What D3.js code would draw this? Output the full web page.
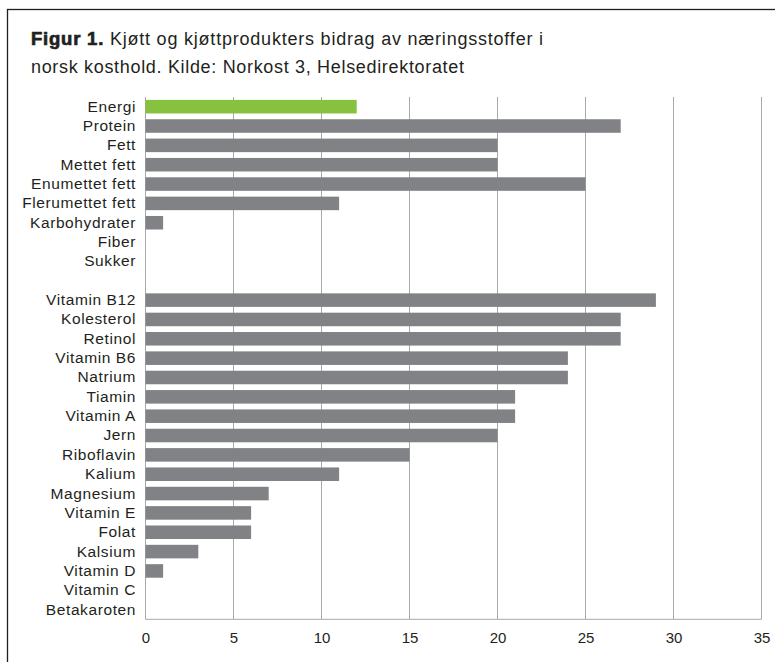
<!DOCTYPE html>
<html><head><meta charset="utf-8">
<script src="https://cdn.jsdelivr.net/npm/d3@7"></script>
<style>body{margin:0;background:#fff}svg{display:block}</style>
</head><body>
<script>
const categories = ["Energi","Protein","Fett","Mettet fett","Enumettet fett","Flerumettet fett","Karbohydrater","Fiber","Sukker","",
 "Vitamin B12","Kolesterol","Retinol","Vitamin B6","Natrium","Tiamin","Vitamin A","Jern","Riboflavin","Kalium","Magnesium","Vitamin E","Folat","Kalsium","Vitamin D","Vitamin C","Betakaroten"];
const values = [12,27,20,20,25,11,1,0,0,null,29,27,27,24,24,21,21,20,15,11,7,6,6,3,1,0,0];
const xTicks = [0,5,10,15,20,25,30,35];
const titleBold = "Figur 1.";
const titleRest = " Kjøtt og kjøttprodukters bidrag av næringsstoffer i";
const titleLine2 = "norsk kosthold. Kilde: Norkost 3, Helsedirektoratet";

const W=775,H=662;
const svg=d3.select("body").append("svg").attr("width",W).attr("height",H);
const font="'Liberation Sans', Arial, Helvetica, sans-serif";
svg.append("rect").attr("x",7.5).attr("y",9.5).attr("width",900).attr("height",900)
  .attr("fill","none").attr("stroke","#231f20").attr("stroke-width",1.3);

const t1=svg.append("text").attr("x",31).attr("y",45).attr("font-family",font).attr("font-size",18).attr("fill","#231f20")
  .attr("textLength",512).attr("lengthAdjust","spacing");
t1.append("tspan").attr("font-weight","900").attr("font-size",18.5).attr("stroke","#231f20").attr("stroke-width",0.7).text(titleBold);
t1.append("tspan").text(titleRest);
svg.append("text").attr("x",31).attr("y",73).attr("font-family",font).attr("font-size",18).attr("fill","#231f20")
  .attr("textLength",433).attr("lengthAdjust","spacing").text(titleLine2);

const x=d3.scaleLinear().domain([0,35]).range([145.5,761.5]);
const y=d3.scaleBand().domain(categories).range([97,619.3]).paddingInner(0.3).paddingOuter(0.15);

const g=svg.append("g");
g.selectAll("line.grid").data(xTicks).join("line").attr("class","grid")
  .attr("x1",d=>x(d)).attr("x2",d=>x(d)).attr("y1",97).attr("y2",619.3)
  .attr("stroke","#a7a9ac").attr("stroke-width",1);
g.append("line").attr("x1",x(0)).attr("x2",x(35)).attr("y1",619.3).attr("y2",619.3).attr("stroke","#a7a9ac").attr("stroke-width",1);

g.selectAll("rect.bar").data(categories.map((c,i)=>({c,v:values[i],i}))).join("rect").attr("class","bar")
  .filter(d=>d.v)
  .attr("x",x(0)).attr("y",d=>y(d.c)).attr("width",d=>x(d.v)-x(0)).attr("height",y.bandwidth())
  .attr("fill",d=>d.i===0?"#86c240":"#808285");

const yAxis=d3.axisLeft(y).tickSize(0).tickPadding(0);
const ya=svg.append("g").attr("transform","translate(136,0)").call(yAxis);
ya.select(".domain").remove();
ya.selectAll("text").attr("font-family",font).attr("font-size",15.5).attr("fill","#231f20").attr("letter-spacing","0.6px");

const xAxis=d3.axisBottom(x).tickValues(xTicks).tickSize(0).tickPadding(0).tickFormat(d3.format("d"));
const xa=svg.append("g").attr("transform","translate(0,632)").call(xAxis);
xa.select(".domain").remove();
xa.selectAll("text").attr("font-family",font).attr("font-size",15).attr("fill","#231f20");
</script>
</body></html>
